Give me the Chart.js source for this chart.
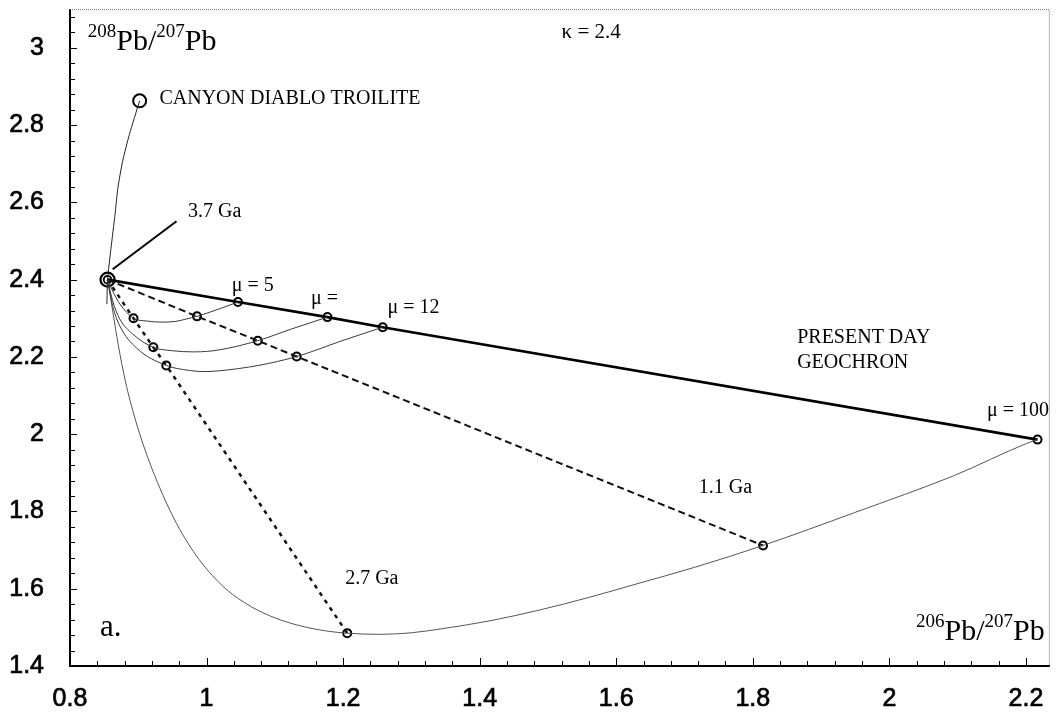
<!DOCTYPE html>
<html>
<head>
<meta charset="utf-8">
<script src="https://cdn.jsdelivr.net/npm/chart.js@4.4.1/dist/chart.umd.min.js"></script>
<style>
  html, body { margin: 0; padding: 0; background: #fff; }
  #wrap { width: 1059px; height: 721px; }
</style>
</head>
<body>
<div id="wrap"><canvas id="c" width="1059" height="721"></canvas></div>
<script>
// Axis ticks
const xTicks = [0.8, 1, 1.2, 1.4, 1.6, 1.8, 2, 2.2];
const yTicks = [1.4, 1.6, 1.8, 2, 2.2, 2.4, 2.6, 2.8, 3];

// Primordial lead and the 3.7 Ga branching point
const cdtPoint = [0.902, 2.863];
const startPoint = [0.855, 2.400];
const cdtPath = [[0.902, 2.863], [0.887, 2.776], [0.877, 2.706], [0.870, 2.636],
                 [0.866, 2.569], [0.860, 2.481], [0.855, 2.400], [0.854, 2.337]];
const leader37 = [[0.8625, 2.427], [0.956, 2.551]];

// Present-day (geochron), 1.1 Ga and 2.7 Ga compositions for each mu
const muNames = ['μ = 5', 'μ =', 'μ = 12', 'μ = 100'];
const presentX = [1.046, 1.177, 1.258, 2.217];
const presentY = [2.342, 2.303, 2.277, 1.986];
const ga11X = [0.986, 1.075, 1.132, 1.815];
const ga11Y = [2.305, 2.242, 2.201, 1.712];
const ga27X = [0.893, 0.922, 0.941, 1.206];
const ga27Y = [2.300, 2.225, 2.178, 1.485];

// Growth curves from 3.7 Ga to today
const curveMu5 = [[0.855, 2.400], [0.864, 2.365], [0.873, 2.337], [0.893, 2.300], [0.912, 2.293],
                  [0.935, 2.290], [0.955, 2.292], [0.970, 2.298], [0.986, 2.305], [1.018, 2.324],
                  [1.046, 2.342]];
const curveMuMid = [[0.855, 2.400], [0.8625, 2.345], [0.873, 2.298], [0.892, 2.259], [0.922, 2.225],
                    [0.950, 2.216], [0.982, 2.213], [1.018, 2.218], [1.075, 2.242], [1.124, 2.272],
                    [1.177, 2.303]];
const curveMu12 = [[0.855, 2.400], [0.8625, 2.332], [0.873, 2.280], [0.8975, 2.223], [0.941, 2.178],
                   [0.975, 2.165], [0.995, 2.162], [1.018, 2.164], [1.076, 2.178], [1.132, 2.201],
                   [1.197, 2.241], [1.258, 2.277]];
const curveMu100 = [[0.855, 2.400], [0.8625, 2.319], [0.871, 2.228], [0.881, 2.138], [0.888, 2.087],
                    [0.902, 2.001], [0.924, 1.893], [0.956, 1.769], [0.989, 1.676], [1.028, 1.600],
                    [1.066, 1.553], [1.101, 1.524], [1.135, 1.505], [1.174, 1.491], [1.206, 1.485],
                    [1.250, 1.482], [1.300, 1.486], [1.343, 1.496], [1.415, 1.517], [1.488, 1.545],
                    [1.561, 1.578], [1.629, 1.612], [1.716, 1.656], [1.815, 1.712], [1.949, 1.797],
                    [2.095, 1.893], [2.201, 1.976], [2.217, 1.986]];

const pts = arr => arr.map(([x, y]) => ({x, y}));
const zipPts = (xs, ys) => xs.map((x, i) => ({x, y: ys[i]}));
const withStart = (xs, ys) => [{x: startPoint[0], y: startPoint[1]}].concat(zipPts(xs, ys));

const SERIF = "'Liberation Serif', 'Times New Roman', serif";
const SANS = "'Liberation Sans', Arial, sans-serif";

const growthStyle = {showLine: true, borderColor: '#3a3a3a', borderWidth: 1, pointRadius: 0,
                     cubicInterpolationMode: 'monotone', fill: false};

const datasets = [
  {label: 'CDT', data: pts(cdtPath), showLine: true, borderColor: '#222', borderWidth: 1,
   pointRadius: 0, tension: 0.2},
  Object.assign({label: 'μ5', data: pts(curveMu5)}, growthStyle),
  Object.assign({label: 'μmid', data: pts(curveMuMid)}, growthStyle),
  Object.assign({label: 'μ12', data: pts(curveMu12)}, growthStyle),
  Object.assign({label: 'μ100', data: pts(curveMu100)}, growthStyle, {borderColor: '#555'}),
  {label: '2.7 Ga', data: withStart(ga27X, ga27Y), showLine: true, borderColor: '#111', borderWidth: 2.5,
   borderDash: [4, 5], pointRadius: 0, tension: 0},
  {label: '1.1 Ga', data: withStart(ga11X, ga11Y), showLine: true, borderColor: '#111', borderWidth: 2,
   borderDash: [7, 4], pointRadius: 0, tension: 0},
  {label: 'Geochron', data: withStart(presentX, presentY), showLine: true, borderColor: '#000', borderWidth: 2.6,
   pointRadius: 0, tension: 0},
  {label: '3.7 Ga leader', data: pts(leader37), showLine: true, borderColor: '#000', borderWidth: 2,
   pointRadius: 0, tension: 0},
  {label: 'markers', data: zipPts(presentX, presentY).concat(zipPts(ga11X, ga11Y), zipPts(ga27X, ga27Y)),
   showLine: false, pointRadius: 4, pointBorderWidth: 2, pointBorderColor: '#000', pointBackgroundColor: 'rgba(255,255,255,0)'},
  {label: 'CDT point', data: [{x: cdtPoint[0], y: cdtPoint[1]}], showLine: false, pointRadius: 6.5,
   pointBorderWidth: 2, pointBorderColor: '#000', pointBackgroundColor: '#fff'},
  {label: 'start outer', data: [{x: startPoint[0], y: startPoint[1]}], showLine: false, pointRadius: 7,
   pointBorderWidth: 2.2, pointBorderColor: '#000', pointBackgroundColor: 'rgba(255,255,255,0)'},
  {label: 'start inner', data: [{x: startPoint[0], y: startPoint[1]}], showLine: false, pointRadius: 3.8,
   pointBorderWidth: 1.8, pointBorderColor: '#000', pointBackgroundColor: 'rgba(255,255,255,0)'}
];

// Plain annotation texts, anchored in data coordinates (left edge, vertical middle)
const notes = [
  {t: 'CANYON DIABLO TROILITE', x: 0.931, y: 2.868, size: 20},
  {t: '3.7 Ga', x: 0.973, y: 2.577, size: 20},
  {t: muNames[0], x: 1.037, y: 2.383, size: 20},
  {t: muNames[1], x: 1.153, y: 2.350, size: 20},
  {t: muNames[2], x: 1.265, y: 2.326, size: 20},
  {t: 'PRESENT DAY', x: 1.865, y: 2.249, size: 20},
  {t: 'GEOCHRON', x: 1.865, y: 2.185, size: 20},
  {t: muNames[3], x: 2.143, y: 2.061, size: 20},
  {t: '1.1 Ga', x: 1.721, y: 1.862, size: 20},
  {t: '2.7 Ga', x: 1.203, y: 1.625, size: 20},
  {t: 'κ = 2.4', x: 1.52, y: 3.041, size: 21},
  {t: 'a.', x: 0.844, y: 1.498, size: 31}
];

// Isotope ratio captions: [superscript, base, superscript, base]
const ratioLabels = [
  {parts: ['208', 'Pb/', '207', 'Pb'], x: 0.826, y: 2.995},
  {parts: ['206', 'Pb/', '207', 'Pb'], x: 2.039, y: 1.467}
];

const xMinor = 0.04, yMinor = 0.04;

const framePlugin = {
  id: 'frame',
  afterDatasetsDraw(chart) {
    const {ctx, chartArea: a, scales: {x, y}} = chart;
    ctx.save();
    // top and right edges: faint dotted rule
    ctx.strokeStyle = '#666';
    ctx.lineWidth = 1;
    ctx.setLineDash([1, 1]);
    ctx.beginPath();
    ctx.moveTo(a.left, a.top + 0.5);
    ctx.lineTo(a.right - 0.5, a.top + 0.5);
    ctx.lineTo(a.right - 0.5, a.bottom);
    ctx.stroke();
    ctx.setLineDash([]);
    // left and bottom axes
    ctx.strokeStyle = '#000';
    ctx.lineWidth = 2;
    ctx.beginPath();
    ctx.moveTo(a.left, a.top);
    ctx.lineTo(a.left, a.bottom);
    ctx.lineTo(a.right, a.bottom);
    ctx.stroke();
    // inward tick marks
    ctx.lineWidth = 1;
    ctx.beginPath();
    for (let i = 0; ; i++) {
      const v = x.min + i * xMinor;
      if (v > x.max + 1e-9) break;
      const px = Math.round(x.getPixelForValue(v)) + 0.5;
      const major = i % 5 === 0;
      ctx.moveTo(px, a.bottom);
      ctx.lineTo(px, a.bottom - (major ? 8 : 5));
    }
    for (let i = 0; ; i++) {
      const v = y.min + i * yMinor;
      if (v > y.max + 1e-9) break;
      const py = Math.round(y.getPixelForValue(v)) + 0.5;
      const major = i % 5 === 0;
      ctx.moveTo(a.left, py);
      ctx.lineTo(a.left + (major ? 7 : 5), py);
    }
    ctx.stroke();

    // annotations
    ctx.fillStyle = '#000';
    ctx.textBaseline = 'middle';
    ctx.textAlign = 'left';
    notes.forEach(n => {
      ctx.font = n.size + 'px ' + SERIF;
      ctx.fillText(n.t, x.getPixelForValue(n.x), y.getPixelForValue(n.y));
    });
    ctx.textBaseline = 'alphabetic';
    ratioLabels.forEach(r => {
      let px = x.getPixelForValue(r.x);
      const py = y.getPixelForValue(r.y);
      r.parts.forEach((p, i) => {
        const sup = i % 2 === 0;
        ctx.font = (sup ? 19 : 30) + 'px ' + SERIF;
        ctx.fillText(p, px, sup ? py - 13 : py);
        px += ctx.measureText(p).width;
      });
    });
    ctx.restore();
  }
};

const fmt = v => String(Number(v.toFixed(2)));

new Chart(document.getElementById('c'), {
  type: 'scatter',
  data: {datasets},
  options: {
    responsive: false,
    animation: false,
    devicePixelRatio: 1,
    layout: {padding: {top: 7, right: 2, left: 0, bottom: 0}},
    plugins: {legend: {display: false}, tooltip: {enabled: false}},
    scales: {
      x: {
        type: 'linear', min: 0.8, max: 2.235,
        grid: {display: false, drawTicks: false, tickLength: 0},
        border: {display: false},
        afterBuildTicks: s => { s.ticks = xTicks.map(v => ({value: v})); },
        afterFit: s => { s.height = 55; s.paddingLeft = 0; s.paddingRight = 0; },
        ticks: {color: '#000', font: {family: SANS, size: 25}, padding: 18, maxRotation: 0,
                textStrokeColor: '#000', textStrokeWidth: 0.7,
                autoSkip: false, callback: v => fmt(v)}
      },
      y: {
        type: 'linear', min: 1.4, max: 3.1,
        grid: {display: false, drawTicks: false, tickLength: 0},
        border: {display: false},
        afterBuildTicks: s => { s.ticks = yTicks.map(v => ({value: v})); },
        afterFit: s => { s.width = 70; s.paddingTop = 0; s.paddingBottom = 0; },
        ticks: {color: '#000', font: {family: SANS, size: 25}, padding: 26,
                textStrokeColor: '#000', textStrokeWidth: 0.7,
                autoSkip: false, callback: v => fmt(v)}
      }
    }
  },
  plugins: [framePlugin]
});
</script>
</body>
</html>
